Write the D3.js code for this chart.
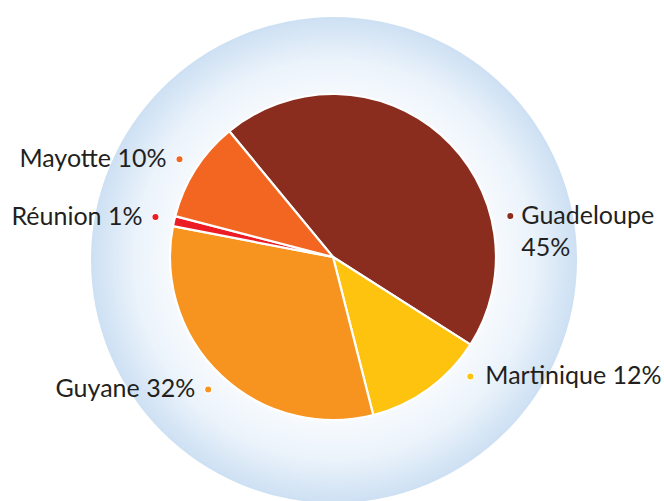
<!DOCTYPE html>
<html>
<head>
<meta charset="utf-8">
<script src="https://cdn.jsdelivr.net/npm/d3@7"></script>
<style>
  body { margin: 0; background: #fff; }
  text { font-family: Lato, "Open Sans", sans-serif; fill: #231f20; }
</style>
</head>
<body>
<div id="chart"></div>
<script>
var regions = ['Guadeloupe', 'Martinique', 'Guyane', 'Réunion', 'Mayotte'];
var shares = [45, 12, 32, 1, 10];
var colors = ['#8b2d1e', '#fec30f', '#f7931f', '#ec1c24', '#f26622'];

var width = 664, height = 501;
var cx = 333, cy = 257;
var r = 163, bgR = 243, labelR = 182;
var startDeg = -39.5;

var svg = d3.select('#chart').append('svg')
    .attr('width', width)
    .attr('height', height);

var grad = svg.append('defs').append('radialGradient')
    .attr('id', 'halo')
    .attr('cx', '50%').attr('cy', '50%').attr('r', '50%');
grad.append('stop').attr('offset', '0%').attr('stop-color', '#ffffff');
grad.append('stop').attr('offset', '62%').attr('stop-color', '#fafcfe');
grad.append('stop').attr('offset', '82%').attr('stop-color', '#ebf3fb');
grad.append('stop').attr('offset', '100%').attr('stop-color', '#cde0f3');

var g = svg.append('g').attr('transform', 'translate(' + cx + ',' + cy + ')');

g.append('circle')
    .attr('cx', 1).attr('cy', 3)
    .attr('r', bgR)
    .attr('fill', 'url(#halo)');

var data = regions.map(function (d, i) { return { name: d, value: shares[i], color: colors[i] }; });

var start = startDeg * Math.PI / 180;
var pie = d3.pie()
    .value(function (d) { return d.value; })
    .sort(null)
    .startAngle(start)
    .endAngle(start + 2 * Math.PI);

var arcs = pie(data);
var arc = d3.arc().innerRadius(0).outerRadius(r);

g.selectAll('path.slice')
    .data(arcs)
    .enter().append('path')
    .attr('class', 'slice')
    .attr('d', arc)
    .attr('fill', function (d) { return d.data.color; })
    .attr('stroke', '#fff')
    .attr('stroke-width', 2.2)
    .attr('stroke-linejoin', 'round');

// label anchors: mid-angle, nudged for the two right-hand labels
var nudge = { 'Guadeloupe': 77, 'Martinique': 131 };

arcs.forEach(function (d) {
    var a = (d.startAngle + d.endAngle) / 2;
    if (nudge[d.data.name] !== undefined) a = nudge[d.data.name] * Math.PI / 180;
    var x = labelR * Math.sin(a), y = -labelR * Math.cos(a);
    var right = Math.sin(a) > 0;

    g.append('circle')
        .attr('cx', x).attr('cy', y)
        .attr('r', 3.6)
        .attr('fill', d.data.color)
        .attr('stroke', '#fff')
        .attr('stroke-width', 1.2);

    var t = g.append('text')
        .attr('font-size', '25px')
        .attr('text-anchor', right ? 'start' : 'end');
    if (d.data.name === 'Guadeloupe') {
        t.append('tspan').attr('x', x + 11).attr('y', y + 8).text(d.data.name);
        t.append('tspan').attr('x', x + 11).attr('y', y + 40).text(d.data.value + '%');
    } else {
        t.attr('x', right ? x + 15 : x - 13)
            .attr('y', y + 8)
            .text(d.data.name + ' ' + d.data.value + '%');
    }
});
</script>
</body>
</html>
